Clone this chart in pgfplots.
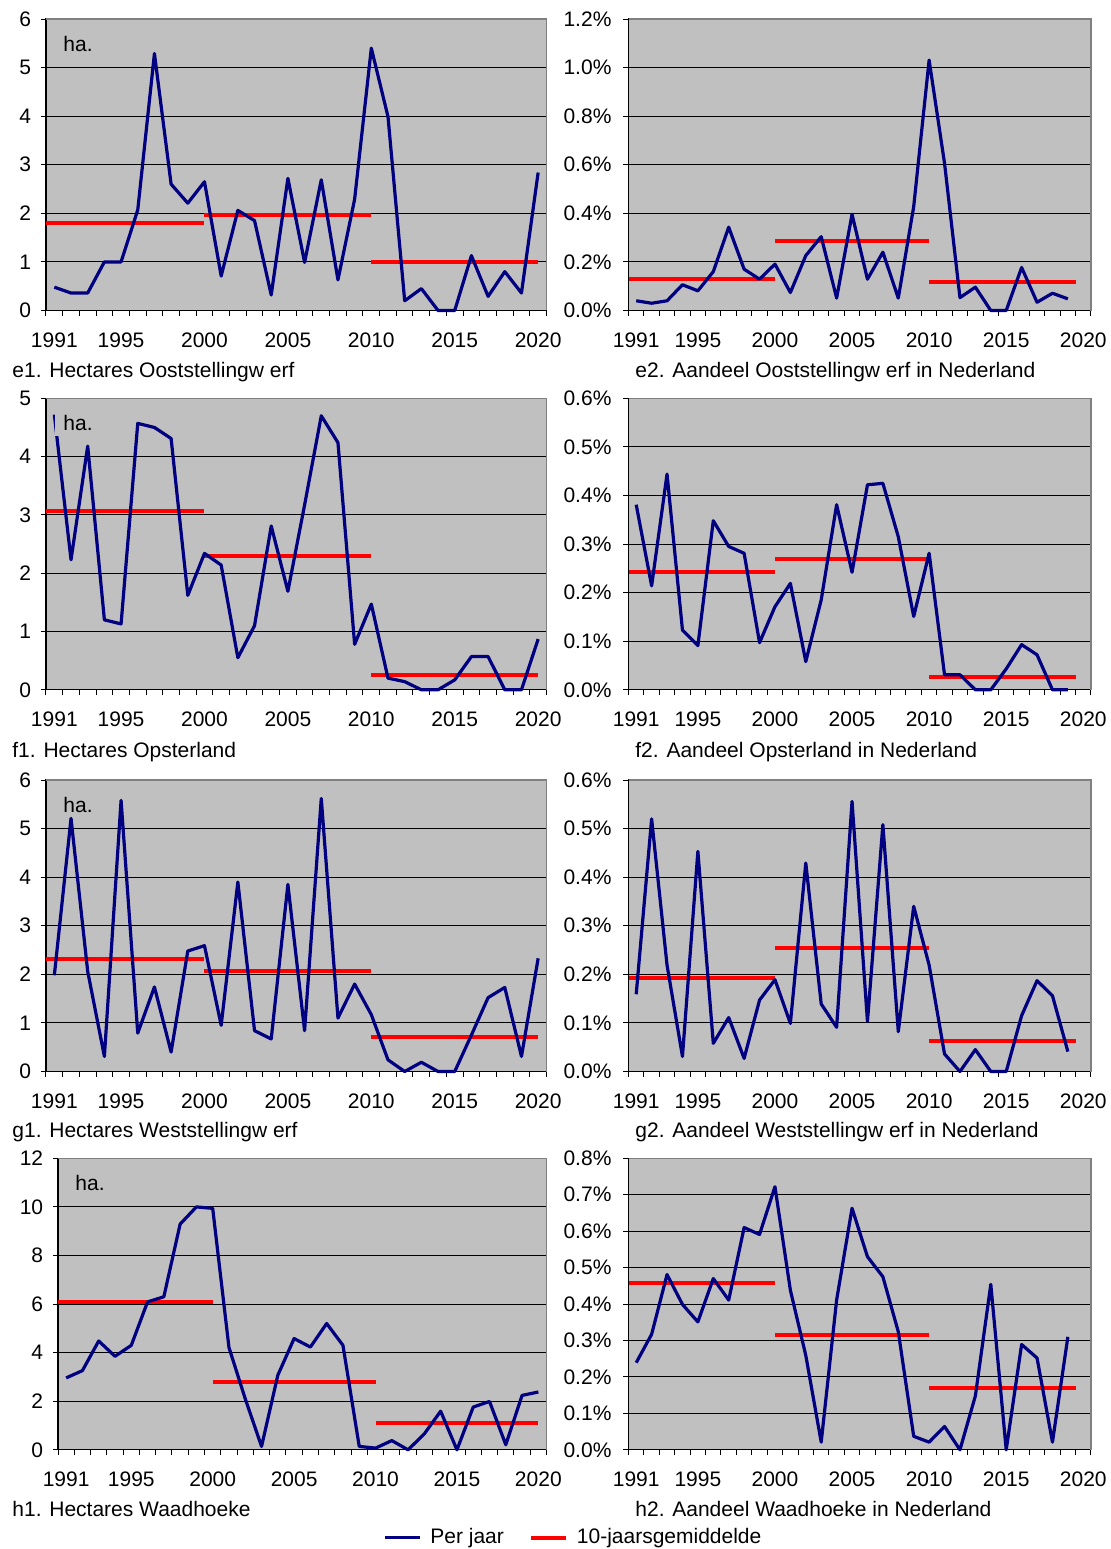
\documentclass[border=0pt]{standalone}
\usepackage{fontspec}
\setmainfont{Liberation Sans}
\usepackage{pgfplots}
\usepackage{pgfplotstable}
\pgfplotsset{compat=1.18}
\definecolor{navy}{RGB}{0,0,128}
\definecolor{bgray}{RGB}{192,192,192}
\definecolor{bborder}{RGB}{128,128,128}
\newcommand\lf{\fontsize{10.5}{12.6}\selectfont}

\pgfplotstableread{
year e1 e2 f1 f2 g1 g2 h1 h2
1991 0.48 0.040 4.72 0.381 1.98 0.159 2.96 0.239
1992 0.36 0.030 2.23 0.214 5.21 0.520 3.26 0.317
1993 0.36 0.040 4.18 0.444 2.06 0.219 4.48 0.481
1994 1.00 0.106 1.20 0.123 0.31 0.031 3.85 0.399
1995 1.00 0.081 1.13 0.091 5.58 0.453 4.30 0.351
1996 2.07 0.160 4.57 0.348 0.79 0.058 6.09 0.470
1997 5.29 0.343 4.50 0.295 1.74 0.111 6.30 0.411
1998 2.60 0.170 4.31 0.281 0.40 0.027 9.29 0.610
1999 2.21 0.129 1.62 0.097 2.48 0.147 10.00 0.591
2000 2.65 0.191 2.34 0.171 2.59 0.189 9.94 0.722
2001 0.71 0.074 2.14 0.219 0.95 0.099 4.21 0.438
2002 2.06 0.226 0.55 0.058 3.90 0.429 2.10 0.259
2003 1.85 0.304 1.10 0.185 0.84 0.139 0.14 0.021
2004 0.32 0.051 2.81 0.381 0.67 0.091 3.07 0.411
2005 2.72 0.396 1.69 0.242 3.85 0.556 4.58 0.663
2006 0.99 0.129 3.17 0.422 0.84 0.103 4.23 0.530
2007 2.69 0.240 4.70 0.425 5.62 0.508 5.20 0.475
2008 0.63 0.051 4.24 0.315 1.10 0.082 4.30 0.324
2009 2.29 0.428 0.78 0.151 1.80 0.340 0.14 0.037
2010 5.40 1.031 1.47 0.281 1.17 0.219 0.07 0.021
2011 3.99 0.606 0.20 0.031 0.24 0.036 0.38 0.064
2012 0.20 0.053 0.14 0.031 0.00 0.000 0.00 0.000
2013 0.45 0.096 0.00 0.000 0.19 0.045 0.66 0.148
2014 0.00 0.000 0.00 0.000 0.00 0.000 1.59 0.454
2015 0.00 0.000 0.17 0.043 0.00 0.000 0.00 0.000
2016 1.13 0.177 0.57 0.093 0.75 0.115 1.76 0.289
2017 0.29 0.034 0.57 0.072 1.52 0.187 1.99 0.252
2018 0.80 0.071 0.00 0.000 1.73 0.156 0.21 0.021
2019 0.36 0.048 0.00 0.000 0.31 0.041 2.24 0.310
2020 2.84 nan 0.87 nan 2.33 nan 2.38 nan
}\yearly

\pgfplotsset{
  panel/.style={
    scale only axis, height=145.75pt,
    anchor=north west,
    xmin=1990.5, xmax=2020.5, ymin=0,
    axis background/.style={fill=bgray},
    axis line style={black, line width=0.6pt},
    xtick={1990.5,1991.5,...,2020.5}, xticklabel={\relax},
    extra x ticks={1991,1995,2000,2005,2010,2015,2020},
    extra x tick labels={1991,1995,2000,2005,2010,2015,2020},
    extra x tick style={major tick length=0pt, xticklabel style={yshift=-7.5pt}},
    tick align=outside, xtick pos=left, ytick pos=left,
    major tick length=2.6pt,
    tick style={black, line width=0.5pt},
    ymajorgrids, grid style={black, line width=0.5pt},
    tick label style={font=\lf},
    clip=false,
  },
  leftp/.style={panel, width=250.25pt,
    yticklabel={\pgfmathprintnumber[assume math mode=true]{\tick}},
    yticklabel style={xshift=-1.3pt}},
  rightp/.style={panel, width=231.25pt,
    yticklabel={\pgfmathprintnumber[fixed,fixed zerofill,precision=1,assume math mode=true]{\tick}\%},
    yticklabel style={xshift=-2.4pt}},
  avg/.style={red, line width=2pt, forget plot},
  yr/.style={navy, line width=1.6pt, line join=round, forget plot},
}
\newcommand\border{\draw[bborder, line width=0.6pt] (rel axis cs:0,1) -- (rel axis cs:1,1) -- (rel axis cs:1,0);}
\newcommand\ha{\node[anchor=base west, inner sep=0pt, font=\lf, xshift=8.5pt, yshift=-16pt] at (rel axis cs:0,1) {ha.};}

\begin{document}
\begin{tikzpicture}
\useasboundingbox (0,0) rectangle (555.5pt,-774.5pt);

% e1
\begin{axis}[leftp, at={(23pt,-9.5pt)}, ymax=6, ytick={0,1,2,3,4,5,6}]
\addplot[avg] coordinates {(1990.5,1.80) (2000,1.80)};
\addplot[avg] coordinates {(2000,1.97) (2010,1.97)};
\addplot[avg] coordinates {(2010,1.00) (2020,1.00)};
\addplot[yr] table[x=year, y=e1] {\yearly};
\border \ha
\end{axis}
% e2
\begin{axis}[rightp, at={(314.25pt,-9.5pt)}, ymax=1.2, ytick={0,0.2,0.4,0.6,0.8,1.0,1.2}]
\addplot[avg] coordinates {(1990.5,0.129) (2000,0.129)};
\addplot[avg] coordinates {(2000,0.288) (2010,0.288)};
\addplot[avg] coordinates {(2010,0.119) (2019.5,0.119)};
\addplot[yr] table[x=year, y=e2] {\yearly};
\border
\end{axis}
% f1
\begin{axis}[leftp, at={(23pt,-199.15pt)}, ymax=5, ytick={0,1,2,3,4,5}]
\addplot[avg] coordinates {(1990.5,3.07) (2000,3.07)};
\addplot[avg] coordinates {(2000,2.30) (2010,2.30)};
\addplot[avg] coordinates {(2010,0.26) (2020,0.26)};
\addplot[yr] table[x=year, y=f1] {\yearly};
\border
\node[anchor=base west, inner xsep=4pt, inner ysep=2.5pt, fill=bgray, font=\lf, xshift=4.5pt, yshift=-16pt] at (rel axis cs:0,1) {ha.};
\end{axis}
% f2
\begin{axis}[rightp, at={(314.25pt,-199.15pt)}, ymax=0.6, ytick={0,0.1,0.2,0.3,0.4,0.5,0.6}]
\addplot[avg] coordinates {(1990.5,0.243) (2000,0.243)};
\addplot[avg] coordinates {(2000,0.269) (2010,0.269)};
\addplot[avg] coordinates {(2010,0.027) (2019.5,0.027)};
\addplot[yr] table[x=year, y=f2] {\yearly};
\border
\end{axis}
% g1
\begin{axis}[leftp, at={(23pt,-390pt)}, ymax=6, ytick={0,1,2,3,4,5,6}]
\addplot[avg] coordinates {(1990.5,2.32) (2000,2.32)};
\addplot[avg] coordinates {(2000,2.07) (2010,2.07)};
\addplot[avg] coordinates {(2010,0.71) (2020,0.71)};
\addplot[yr] table[x=year, y=g1] {\yearly};
\border \ha
\end{axis}
% g2
\begin{axis}[rightp, at={(314.25pt,-390pt)}, ymax=0.6, ytick={0,0.1,0.2,0.3,0.4,0.5,0.6}]
\addplot[avg] coordinates {(1990.5,0.192) (2000,0.192)};
\addplot[avg] coordinates {(2000,0.255) (2010,0.255)};
\addplot[avg] coordinates {(2010,0.063) (2019.5,0.063)};
\addplot[yr] table[x=year, y=g2] {\yearly};
\border
\end{axis}
% h1
\begin{axis}[leftp, width=244.25pt, at={(29pt,-579.15pt)}, ymax=12, ytick={0,2,4,6,8,10,12},
  legend style={at={(1.062,-0.301)}, anchor=center, draw=none, fill=none, font=\lf,
    legend columns=2, /tikz/every even column/.append style={column sep=8pt},
    nodes={inner xsep=4.5pt}},
  legend image code/.code={\draw[#1] (0pt,0pt) -- (17.5pt,0pt);}]
\addlegendimage{navy, line width=1.6pt}
\addlegendentry{Per jaar}
\addlegendimage{red, line width=2pt}
\addlegendentry{10-jaarsgemiddelde}
\addplot[avg] coordinates {(1990.5,6.09) (2000,6.09)};
\addplot[avg] coordinates {(2000,2.79) (2010,2.79)};
\addplot[avg] coordinates {(2010,1.11) (2020,1.11)};
\addplot[yr] table[x=year, y=h1] {\yearly};
\border \ha
\end{axis}
% h2
\begin{axis}[rightp, at={(314.25pt,-579.15pt)}, ymax=0.8, ytick={0,0.1,0.2,0.3,0.4,0.5,0.6,0.7,0.8}]
\addplot[avg] coordinates {(1990.5,0.459) (2000,0.459)};
\addplot[avg] coordinates {(2000,0.314) (2010,0.314)};
\addplot[avg] coordinates {(2010,0.170) (2019.5,0.170)};
\addplot[yr] table[x=year, y=h2] {\yearly};
\border
\end{axis}

\begin{scope}[every node/.style={anchor=base west, inner sep=0pt, font=\lf}]
\node at (6pt,-188.75pt) {e1. Hectares Ooststellingw erf};
\node at (317.5pt,-188.75pt) {e2. Aandeel Ooststellingw erf in Nederland};
\node at (6pt,-378.5pt) {f1. Hectares Opsterland};
\node at (317.5pt,-378.5pt) {f2. Aandeel Opsterland in Nederland};
\node at (6pt,-568.75pt) {g1. Hectares Weststellingw erf};
\node at (317.5pt,-568.75pt) {g2. Aandeel Weststellingw erf in Nederland};
\node at (6pt,-758pt) {h1. Hectares Waadhoeke};
\node at (317.5pt,-758pt) {h2. Aandeel Waadhoeke in Nederland};
\end{scope}
\end{tikzpicture}
\end{document}
